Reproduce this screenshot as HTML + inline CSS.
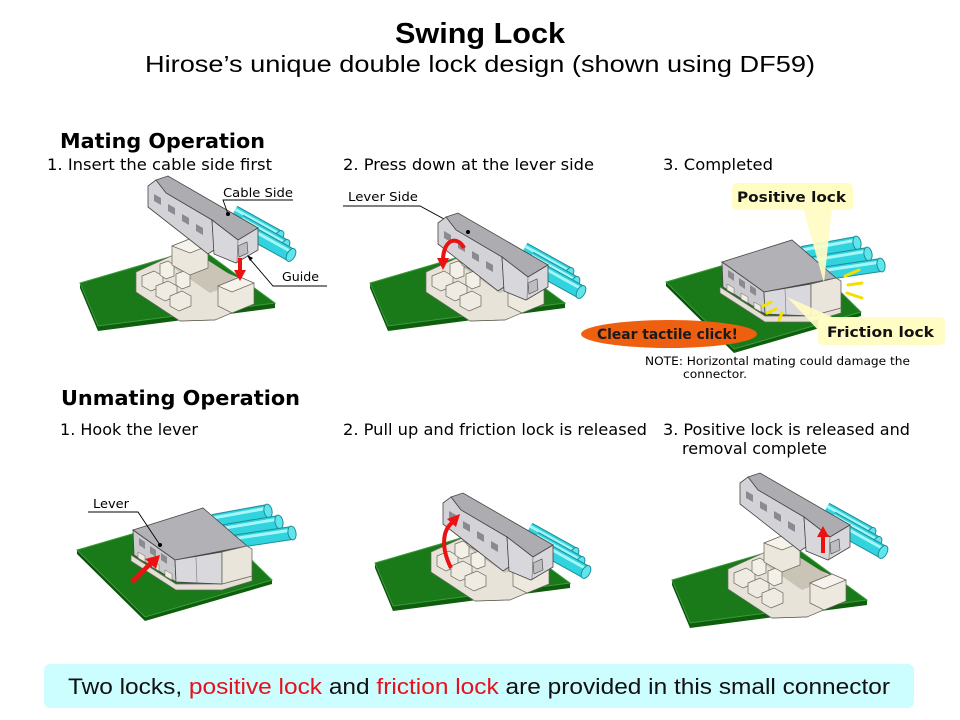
<!DOCTYPE html>
<html><head><meta charset="utf-8">
<style>html,body{margin:0;padding:0;background:#fff;width:960px;height:720px;overflow:hidden}</style>
</head><body>
<svg width="960" height="720" viewBox="0 0 960 720" xmlns="http://www.w3.org/2000/svg">
<defs>
 <g id="boardT">
  <polygon points="80,283 98,326 98,331 80,288" fill="#0c520c"/>
  <polygon points="98,326 275,303 275,308 98,331" fill="#0e5e0e"/>
  <polygon points="80,283 200,248 275,303 98,326" fill="#1a7a1a" stroke="#3a9c3a" stroke-width="1"/>
 </g>
 <g id="hdr" stroke="#6a675e" stroke-width="0.7">
  <polygon points="136,272 180,252 253,284 253,304 215,320 180,321 136,292" fill="#e7e3d8"/>
  <polygon points="168,264 198,254 240,281 210,293" fill="#c9c4b6" stroke="none"/>
  <polygon points="142,276 154,271 163,276 163,286 151,291 142,286" fill="#efebe2"/>
  <polygon points="156,286 168,281 177,286 177,296 165,301 156,296" fill="#efebe2"/>
  <polygon points="170,296 182,291 191,296 191,306 179,311 170,306" fill="#efebe2"/>
  <polygon points="160,264 168,261 174,265 174,276 166,279 160,275" fill="#f3f0e8"/>
  <polygon points="176,274 184,271 190,275 190,286 182,289 176,285" fill="#f3f0e8"/>
  <polygon points="172,246 192,238 208,246 208,268 190,275 172,265" fill="#ebe7dd"/>
  <polygon points="172,246 192,238 208,246 190,253" fill="#f6f3ec"/>
  <polygon points="218,286 240,277 254,283 254,304 232,313 218,306" fill="#ede9df"/>
  <polygon points="218,286 240,277 254,283 232,292" fill="#f6f3ec"/>
  <line x1="180" y1="321" x2="215" y2="320"/>
 </g>
 <g id="housT">
  <g>
   <line x1="234" y1="212" x2="279" y2="237" stroke="#1b8f99" stroke-width="14"/>
   <line x1="234" y1="212" x2="279" y2="237" stroke="#31d3de" stroke-width="12"/>
   <line x1="235.5" y1="209.5" x2="280.5" y2="234.5" stroke="#a5f6f8" stroke-width="3"/>
   <ellipse cx="279" cy="237" rx="4" ry="7" transform="rotate(29 279 237)" fill="#62e4ec" stroke="#1b8f99" stroke-width="1"/>
   <line x1="240" y1="221" x2="285" y2="246" stroke="#1b8f99" stroke-width="14"/>
   <line x1="240" y1="221" x2="285" y2="246" stroke="#31d3de" stroke-width="12"/>
   <line x1="241.5" y1="218.5" x2="286.5" y2="243.5" stroke="#a5f6f8" stroke-width="3"/>
   <ellipse cx="285" cy="246" rx="4" ry="7" transform="rotate(29 285 246)" fill="#62e4ec" stroke="#1b8f99" stroke-width="1"/>
   <line x1="246" y1="230" x2="291" y2="255" stroke="#1b8f99" stroke-width="14"/>
   <line x1="246" y1="230" x2="291" y2="255" stroke="#31d3de" stroke-width="12"/>
   <line x1="247.5" y1="227.5" x2="292.5" y2="252.5" stroke="#a5f6f8" stroke-width="3"/>
   <ellipse cx="291" cy="255" rx="4" ry="7" transform="rotate(29 291 255)" fill="#62e4ec" stroke="#1b8f99" stroke-width="1"/>
  </g>
  <polygon points="156,180 168,176 258,228 238,240 212,220 166,193" fill="#adadb1" stroke="#454545" stroke-width=".8"/>
  <polygon points="148,186 156,180 166,193 212,220 214,250 208,254 148,207" fill="#d3d3d7" stroke="#454545" stroke-width=".8"/>
  <g fill="#8a8a90">
   <polygon points="154,194 161,198 161,205 154,201"/>
   <polygon points="168,204 175,208 175,215 168,211"/>
   <polygon points="182,214 189,218 189,225 182,221"/>
   <polygon points="196,224 203,228 203,235 196,231"/>
  </g>
  <polygon points="212,220 238,240 258,228 258,250 236,263 214,254" fill="#d8d8dc" stroke="#454545" stroke-width=".8"/>
  <line x1="238" y1="240" x2="237" y2="262" stroke="#777" stroke-width=".7"/>
  <polygon points="238,246 247,242 248,253 239,257" fill="#bdbdc2" stroke="#454545" stroke-width=".6"/>
 </g>
 <g id="flatS">
  <polygon points="77,550 145,617 145,621 77,554" fill="#0c520c"/>
  <polygon points="145,617 272,580 272,584 145,621" fill="#0e5e0e"/>
  <polygon points="77,550 204,513 272,580 145,617" fill="#1a7a1a" stroke="#3a9c3a" stroke-width="1"/>
  <polygon points="131,555 176,584 222,584 252,576 252,581 222,590 176,590 131,561" fill="#e4e0d5" stroke="#6a675e" stroke-width=".7"/>
  <g>
   <line x1="213" y1="521" x2="268" y2="511" stroke="#1b8f99" stroke-width="14"/>
   <line x1="213" y1="521" x2="268" y2="511" stroke="#31d3de" stroke-width="12"/>
   <line x1="213" y1="518" x2="268" y2="508" stroke="#a5f6f8" stroke-width="3"/>
   <ellipse cx="268" cy="511" rx="4" ry="7" transform="rotate(-10 268 511)" fill="#62e4ec" stroke="#1b8f99" stroke-width="1"/>
   <line x1="219" y1="532" x2="279" y2="522" stroke="#1b8f99" stroke-width="14"/>
   <line x1="219" y1="532" x2="279" y2="522" stroke="#31d3de" stroke-width="12"/>
   <line x1="219" y1="529" x2="279" y2="519" stroke="#a5f6f8" stroke-width="3"/>
   <ellipse cx="279" cy="522" rx="4" ry="7" transform="rotate(-10 279 522)" fill="#62e4ec" stroke="#1b8f99" stroke-width="1"/>
   <line x1="225" y1="543" x2="292" y2="533" stroke="#1b8f99" stroke-width="14"/>
   <line x1="225" y1="543" x2="292" y2="533" stroke="#31d3de" stroke-width="12"/>
   <line x1="225" y1="540" x2="292" y2="530" stroke="#a5f6f8" stroke-width="3"/>
   <ellipse cx="292" cy="533" rx="4" ry="7" transform="rotate(-10 292 533)" fill="#62e4ec" stroke="#1b8f99" stroke-width="1"/>
  </g>
  <polygon points="133,530 203,508 247,546 175,560" fill="#b2b2b6" stroke="#454545" stroke-width=".8"/>
  <polygon points="133,530 175,560 176,582 134,555" fill="#cacace" stroke="#454545" stroke-width=".8"/>
  <g fill="#8a8a90">
   <polygon points="139,538 145,542 145,549 139,545"/>
   <polygon points="150,546 156,550 156,557 150,553"/>
   <polygon points="161,553 167,557 167,564 161,560"/>
  </g>
  <g fill="#efebe2" stroke="#6a675e" stroke-width=".5">
   <polygon points="138,552 145,556 145,562 138,558"/>
   <polygon points="152,561 159,565 159,571 152,567"/>
   <polygon points="165,570 172,574 172,580 165,576"/>
  </g>
  <polygon points="175,560 222,552 222,584 176,582" fill="#d9d9dd" stroke="#454545" stroke-width=".8"/>
  <polygon points="222,552 247,546 252,549 252,576 222,584" fill="#e9e5da" stroke="#6a675e" stroke-width=".8"/>
  <line x1="196" y1="557" x2="197" y2="583" stroke="#888" stroke-width=".7"/>
 </g>
</defs>

<!-- Title -->
<text x="395" y="43" font-family="Liberation Sans, sans-serif" font-weight="bold" font-size="29" fill="#000" textLength="170" lengthAdjust="spacingAndGlyphs">Swing Lock</text>
<text x="145" y="72" font-family="Liberation Sans, sans-serif" font-size="23" fill="#000" textLength="670" lengthAdjust="spacingAndGlyphs">Hirose’s unique double lock design (shown using DF59)</text>

<!-- Headings -->
<g font-family="DejaVu Sans, sans-serif" fill="#000">
 <text x="60" y="148" font-weight="bold" font-size="20" textLength="205" lengthAdjust="spacingAndGlyphs">Mating Operation</text>
 <text x="61" y="405" font-weight="bold" font-size="20" textLength="239" lengthAdjust="spacingAndGlyphs">Unmating Operation</text>
 <text x="47" y="170" font-size="16" textLength="225" lengthAdjust="spacingAndGlyphs">1. Insert the cable side first</text>
 <text x="343" y="170" font-size="16" textLength="251" lengthAdjust="spacingAndGlyphs">2. Press down at the lever side</text>
 <text x="663" y="170" font-size="16" textLength="110" lengthAdjust="spacingAndGlyphs">3. Completed</text>
 <text x="60" y="435" font-size="16" textLength="138" lengthAdjust="spacingAndGlyphs">1. Hook the lever</text>
 <text x="343" y="435" font-size="16" textLength="304" lengthAdjust="spacingAndGlyphs">2. Pull up and friction lock is released</text>
 <text x="663" y="435" font-size="16" textLength="247" lengthAdjust="spacingAndGlyphs">3. Positive lock is released and</text>
 <text x="682" y="454" font-size="16" textLength="145" lengthAdjust="spacingAndGlyphs">removal complete</text>
</g>

<!-- Mating 1 -->
<use href="#boardT"/>
<use href="#hdr"/>
<use href="#housT"/>
<line x1="240" y1="258" x2="240" y2="271" stroke="#ee1111" stroke-width="4"/>
<polygon points="234,270 246,270 240,281" fill="#ee1111"/>
<g font-family="DejaVu Sans, sans-serif" font-size="12" fill="#000">
 <text x="223" y="197" textLength="70" lengthAdjust="spacingAndGlyphs">Cable Side</text>
 <text x="282" y="281" textLength="37" lengthAdjust="spacingAndGlyphs">Guide</text>
 <text x="348" y="201" textLength="70" lengthAdjust="spacingAndGlyphs">Lever Side</text>
 <text x="93" y="508" textLength="36" lengthAdjust="spacingAndGlyphs">Lever</text>
</g>
<g stroke="#000" stroke-width="0.9" fill="none">
 <polyline points="293,200 223,200 228,214"/>
 <polyline points="327,286 273,286 249,258"/>
 <polyline points="343,206 420,206 468,232"/>
</g>
<circle cx="228" cy="214" r="2" fill="#000"/>
<polygon points="247,255 253,258 250,261" fill="#000"/>

<!-- Mating 2 -->
<use href="#boardT" transform="translate(290,0)"/>
<use href="#hdr" transform="translate(290,0)"/>
<use href="#housT" transform="translate(290,37)"/>
<circle cx="468" cy="232" r="2" fill="#000"/>
<path d="M464 248 C458 236 444 238 443 259" stroke="#ee1111" stroke-width="4" fill="none"/>
<polygon points="437,258 449,258 443,270" fill="#ee1111"/>

<!-- Mating 3 -->
<use href="#flatS" transform="translate(589,-268)"/>
<g stroke="#f2e000" stroke-width="3" stroke-linecap="round">
 <line x1="845" y1="276" x2="859" y2="270"/>
 <line x1="848" y1="285" x2="862" y2="283"/>
 <line x1="847" y1="293" x2="862" y2="298"/>
 <line x1="763" y1="306" x2="771" y2="302"/>
 <line x1="767" y1="313" x2="776" y2="309"/>
 <line x1="779" y1="320" x2="782" y2="313"/>
</g>
<polygon points="803,208 832,208 824,283" fill="#fffcc4" opacity="0.92"/>
<rect x="732" y="183" width="121" height="27" rx="5" fill="#fffcc4"/>
<text x="737" y="202" font-family="DejaVu Sans, sans-serif" font-weight="bold" font-size="14" fill="#111" textLength="109" lengthAdjust="spacingAndGlyphs">Positive lock</text>
<polygon points="787,297 832,317 820,332" fill="#fffcc4" opacity="0.92"/>
<rect x="818" y="317" width="127" height="28" rx="5" fill="#fffcc4"/>
<text x="827" y="337" font-family="DejaVu Sans, sans-serif" font-weight="bold" font-size="14" fill="#111" textLength="107" lengthAdjust="spacingAndGlyphs">Friction lock</text>
<ellipse cx="669" cy="334" rx="88" ry="14" fill="#ee5f0f"/>
<text x="597" y="339" font-family="DejaVu Sans, sans-serif" font-weight="bold" font-size="14" fill="#1a1a1a" textLength="141" lengthAdjust="spacingAndGlyphs">Clear tactile click!</text>
<g font-family="DejaVu Sans, sans-serif" font-size="11.5" fill="#000">
 <text x="645" y="365" textLength="265" lengthAdjust="spacingAndGlyphs">NOTE: Horizontal mating could damage the</text>
 <text x="683" y="378" textLength="64" lengthAdjust="spacingAndGlyphs">connector.</text>
</g>

<!-- Unmating 1 -->
<use href="#flatS"/>
<g stroke="#000" stroke-width="0.9" fill="none"><polyline points="88,512 138,512 160,545"/></g>
<circle cx="160" cy="545" r="2" fill="#000"/>
<line x1="132" y1="582" x2="151" y2="563" stroke="#ee1111" stroke-width="4.5"/>
<polygon points="145,559 156,569 160,555" fill="#ee1111"/>

<!-- Unmating 2 -->
<use href="#boardT" transform="translate(295,280)"/>
<use href="#hdr" transform="translate(295,280)"/>
<use href="#housT" transform="translate(295,317)"/>
<path d="M451 568 C441 548 442 530 453 522" stroke="#ee1111" stroke-width="4" fill="none"/>
<polygon points="447,519 456,527 460,514" fill="#ee1111"/>

<!-- Unmating 3 -->
<use href="#boardT" transform="translate(592,297)"/>
<use href="#hdr" transform="translate(592,297)"/>
<use href="#housT" transform="translate(592,297)"/>
<line x1="823" y1="553" x2="823" y2="535" stroke="#ee1111" stroke-width="4"/>
<polygon points="817,537 829,537 823,526" fill="#ee1111"/>

<!-- Banner -->
<rect x="44" y="664" width="870" height="44" rx="6" fill="#ccfdff"/>
<text x="68" y="694" font-family="Liberation Sans, sans-serif" font-size="22" fill="#111" textLength="822" lengthAdjust="spacingAndGlyphs">Two locks, <tspan fill="#e8101c">positive lock</tspan> and <tspan fill="#e8101c">friction lock</tspan> are provided in this small connector</text>
</svg>
</body></html>
